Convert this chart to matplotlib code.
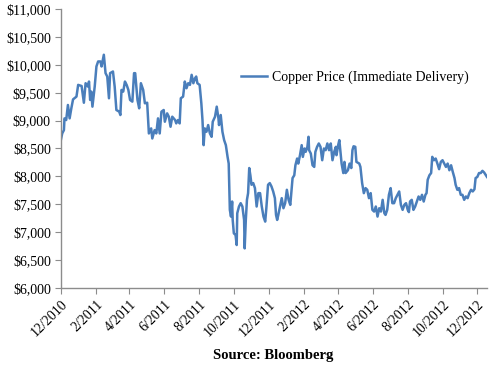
import pandas as pd
import matplotlib.pyplot as plt
import matplotlib.dates as mdates
import matplotlib.ticker as ticker

plt.rc('font', family='Liberation Serif')

start = pd.Timestamp('2010-12-01')

# days after 12/1/2010
days = [0, 3, 6, 7, 10, 13, 16, 19, 22, 28, 31, 37, 41, 44, 48, 50, 52, 54, 56, 60,
        63, 66, 70, 72, 76, 79, 82, 85, 87, 92, 95, 98, 103, 105, 107, 110, 113, 116, 119, 122,
        126, 129, 131, 135, 138, 141, 145, 148, 152, 155, 159, 161, 165, 168, 171, 174, 177, 181, 183, 187,
        190, 193, 196, 201, 203, 206, 209, 211, 215, 218, 221, 224, 227, 230, 233, 236, 238, 240, 244, 247,
        249, 251, 253, 256, 259, 262, 265, 267, 271, 274, 277, 278, 281, 284, 287, 290, 293, 295, 297, 299,
        301, 302, 304, 307, 309, 310, 313, 316, 319, 322, 323, 325, 327, 329, 331, 333, 335, 338, 341, 344,
        347, 350, 353, 356, 359, 361, 364, 367, 370, 373, 376, 378, 380, 382, 385, 388, 391, 394, 397, 400,
        403, 405, 407, 410, 412, 415, 417, 420, 423, 425, 428, 430, 433, 435, 436, 439, 442, 445, 447, 450,
        453, 456, 459, 462, 465, 468, 471, 474, 477, 480, 483, 484, 487, 489, 493, 496, 498, 500, 504, 507,
        510, 512, 514, 517, 519, 524, 526, 529, 532, 535, 538, 541, 544, 547, 550, 553, 556, 559, 562, 565,
        568, 570, 573, 576, 579, 582, 585, 588, 591, 594, 597, 600, 603, 606, 609, 611, 613, 616, 619, 622,
        625, 628, 631, 634, 637, 640, 642, 644, 647, 650, 652, 655, 658, 661, 664, 667, 670, 673, 676, 679,
        682, 685, 688, 691, 693, 696, 699, 702, 705, 708, 711, 714, 717, 720, 723, 726, 728, 731, 734, 737,
        740, 743, 746, 748]

price = [8620, 8770, 8830, 9040, 9010, 9280, 9040, 9220, 9380, 9430, 9640, 9620, 9320, 9670, 9610, 9700, 9370, 9520, 9250, 9610,
         9970, 10060, 10060, 9970, 10180, 9850, 9790, 9400, 9850, 9880, 9610, 9190, 9160, 9100, 9550, 9520, 9700, 9640, 9550, 9370,
         9340, 9850, 9850, 9370, 9220, 9670, 9550, 9310, 9320, 8770, 8860, 8680, 8830, 8770, 9040, 8770, 9160, 9190, 8980, 9130,
         9070, 8890, 9070, 9010, 8950, 9010, 8950, 9400, 9430, 9700, 9580, 9670, 9640, 9820, 9670, 9760, 9790, 9670, 9640, 9310,
         9010, 8560, 8860, 8800, 8920, 8770, 8710, 8980, 9070, 9250, 9040, 8920, 9100, 8800, 8650, 8560, 8350, 8230, 7400, 7280,
         7550, 7220, 6980, 6950, 6770, 7340, 7460, 7520, 7460, 7220, 6710, 7220, 7580, 7700, 8150, 8020, 7850, 7880, 7790, 7460,
         7700, 7700, 7460, 7280, 7190, 7430, 7850, 7880, 7820, 7730, 7610, 7310, 7220, 7310, 7460, 7610, 7430, 7520, 7760, 7580,
         7490, 7730, 7970, 8020, 8200, 8320, 8230, 8380, 8560, 8350, 8500, 8440, 8530, 8710, 8470, 8410, 8200, 8170, 8440, 8530,
         8590, 8530, 8290, 8500, 8470, 8590, 8470, 8590, 8290, 8440, 8530, 8380, 8560, 8650, 8230, 8060, 8260, 8060, 8110, 8230,
         8150, 8470, 8540, 8530, 8260, 8230, 8170, 7880, 7700, 7790, 7760, 7610, 7700, 7400, 7370, 7460, 7280, 7430, 7370, 7580,
         7340, 7310, 7400, 7670, 7790, 7520, 7520, 7610, 7670, 7730, 7490, 7400, 7490, 7520, 7400, 7360, 7550, 7580, 7400, 7460,
         7550, 7640, 7580, 7670, 7550, 7670, 7700, 7940, 8020, 8060, 8350, 8290, 8320, 8230, 8130, 8260, 8290, 8230, 8170, 8230,
         8110, 8200, 8080, 7970, 7850, 7760, 7790, 7670, 7670, 7580, 7640, 7610, 7700, 7760, 7730, 7770, 7970, 7990, 8060, 8060,
         8100, 8070, 8020, 7990]

dates = start + pd.to_timedelta(days, unit='D')

fig = plt.figure(figsize=(4.95, 3.67), dpi=100)
ax = fig.add_axes([60.5/495, 1-288/367, (487-60.5)/495, (288-9)/367])

ax.plot(dates, price, color='#4a7ebb', linewidth=1.8, label='Copper Price (Immediate Delivery)')

ax.set_ylim(6000, 11000)
ax.set_xlim(start, dates[-1])
ax.yaxis.set_major_locator(ticker.MultipleLocator(500))
ax.yaxis.set_major_formatter(ticker.FuncFormatter(lambda v, p: '${:,.0f}'.format(v)))
ax.xaxis.set_major_locator(mdates.MonthLocator(bymonth=[12, 2, 4, 6, 8, 10]))
ax.xaxis.set_major_formatter(ticker.FuncFormatter(lambda v, p: '{}/{}'.format(mdates.num2date(v).month, mdates.num2date(v).year)))

for s in ['top', 'right']:
    ax.spines[s].set_visible(False)
for s in ['left', 'bottom']:
    ax.spines[s].set_color('#8c8c8c')
    ax.spines[s].set_linewidth(1.0)
ax.tick_params(axis='both', colors='#8c8c8c', labelcolor='black', labelsize=10, length=4, direction='out')
ax.tick_params(axis='y', pad=3)
ax.tick_params(axis='x', pad=3)
plt.setp(ax.get_xticklabels(), rotation=45, ha='right', rotation_mode='anchor')

ax.legend(loc='center left', bbox_to_anchor=(241/495, 1-77/367), bbox_transform=fig.transFigure,
          frameon=False, fontsize=10, handlelength=1.9, handletextpad=0.3, borderpad=0, borderaxespad=0)

fig.text(273/495, 1-355/367, 'Source: Bloomberg', ha='center', va='center', fontsize=10.5, fontweight='bold')

fig.savefig('out.png', dpi=100)
